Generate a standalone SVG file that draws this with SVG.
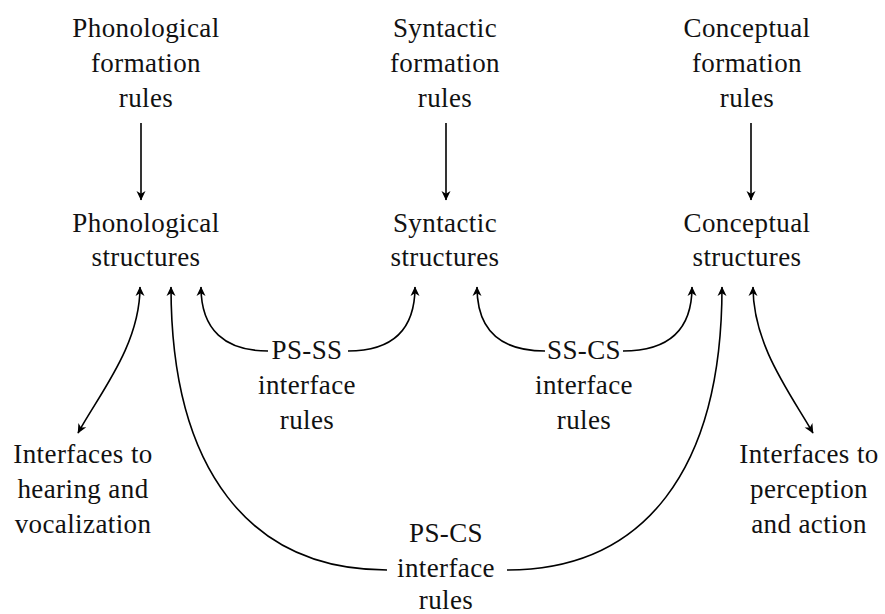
<svg xmlns="http://www.w3.org/2000/svg" width="885" height="614" viewBox="0 0 885 614">
<style>
text{font-size:27px;fill:#111;text-anchor:middle;letter-spacing:0.4px}
.c{fill:none;stroke:#000;stroke-width:1.6}
</style>
<defs>
<marker id="ah" viewBox="-10 -5 11 10" markerWidth="11" markerHeight="10" refX="0" refY="0" orient="auto-start-reverse" markerUnits="userSpaceOnUse">
<path d="M0.5,0 L-9,-4.5 L-6.3,0 L-9,4.5 Z" fill="#000"/>
</marker>
</defs>
<rect width="885" height="614" fill="#fff"/>
<g font-family="Liberation Serif, DejaVu Serif, serif">
<g id="phon-rules"><text x="146" y="37">Phonological</text><text x="146" y="72">formation</text><text x="146" y="107">rules</text></g>
<g id="syn-rules"><text x="445" y="37">Syntactic</text><text x="445" y="72">formation</text><text x="445" y="107">rules</text></g>
<g id="con-rules"><text x="747" y="37">Conceptual</text><text x="747" y="72">formation</text><text x="747" y="107">rules</text></g>
<g id="phon-struct"><text x="146" y="232">Phonological</text><text x="146" y="266">structures</text></g>
<g id="syn-struct"><text x="445" y="232">Syntactic</text><text x="445" y="266">structures</text></g>
<g id="con-struct"><text x="747" y="232">Conceptual</text><text x="747" y="266">structures</text></g>
<g id="ps-ss"><text x="307" y="359">PS-SS</text><text x="307" y="394">interface</text><text x="307" y="429">rules</text></g>
<g id="ss-cs"><text x="584" y="359">SS-CS</text><text x="584" y="394">interface</text><text x="584" y="429">rules</text></g>
<g id="ps-cs"><text x="446" y="542">PS-CS</text><text x="446" y="577">interface</text><text x="446" y="609">rules</text></g>
<g id="hear"><text x="83" y="463">Interfaces to</text><text x="83" y="498">hearing and</text><text x="83" y="533">vocalization</text></g>
<g id="perc"><text x="809" y="463">Interfaces to</text><text x="809" y="498">perception</text><text x="809" y="533">and action</text></g>
</g>
<g id="connectors">
<path class="c" d="M141,123 L141,200" marker-end="url(#ah)"/>
<path class="c" d="M446,123 L446,200" marker-end="url(#ah)"/>
<path class="c" d="M751,123 L751,200" marker-end="url(#ah)"/>
<path class="c" d="M140,287 C140,345 100,393 78,433" marker-start="url(#ah)" marker-end="url(#ah)"/>
<path class="c" d="M753,287 C753,345 790,393 813,433" marker-start="url(#ah)" marker-end="url(#ah)"/>
<path class="c" d="M268,351 C225,351 201,330 201,287" marker-end="url(#ah)"/>
<path class="c" d="M348,351 C393,351 415,330 415,287" marker-end="url(#ah)"/>
<path class="c" d="M545,351 C500,351 477,330 477,287" marker-end="url(#ah)"/>
<path class="c" d="M623,351 C668,351 692,330 692,287" marker-end="url(#ah)"/>
<path class="c" d="M387,570 C250,570 171,470 171,287" marker-end="url(#ah)"/>
<path class="c" d="M507,570 C644,570 722,470 722,287" marker-end="url(#ah)"/>
</g>
</svg>
